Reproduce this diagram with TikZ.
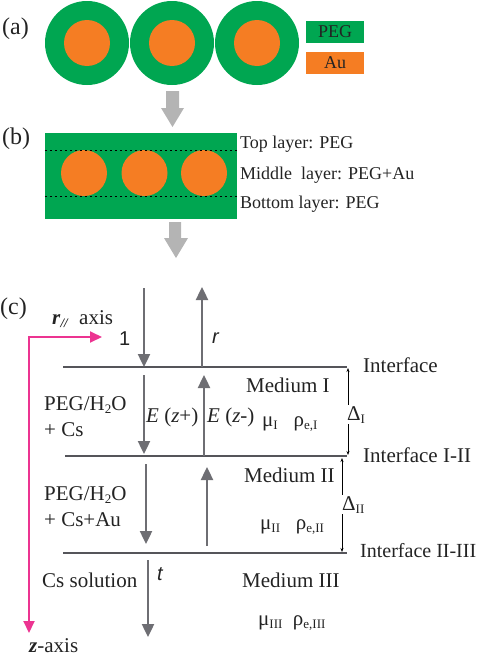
\documentclass[tikz,border=0pt]{standalone}
\usepackage{fontspec}
\setmainfont{Liberation Serif}
\setsansfont{Liberation Sans}
\usetikzlibrary{arrows.meta}
\definecolor{peg}{RGB}{0,166,81}
\definecolor{au}{RGB}{245,125,35}
\definecolor{bigarr}{RGB}{180,180,180}
\definecolor{darr}{RGB}{110,110,115}
\definecolor{iline}{RGB}{85,85,90}
\definecolor{mag}{RGB}{236,52,145}
\definecolor{txtc}{RGB}{35,35,35}
\newcommand{\sbs}[1]{\raisebox{-0.35ex}{\fontsize{13}{13}\selectfont #1}}
\begin{document}
\begin{tikzpicture}[x=1pt,y=-1pt,
  txt/.style={anchor=base west,inner sep=0pt,text=txtc,font=\fontsize{21}{25}\selectfont},
  lbl/.style={anchor=base west,inner sep=0pt,text=txtc,font=\fontsize{18}{22}\selectfont},
  panel/.style={anchor=base west,inner sep=0pt,text=txtc,font=\fontsize{24}{28}\selectfont},
  shell/.style={circle,fill=peg,minimum size=84pt,inner sep=0pt},
  core/.style={circle,fill=au,minimum size=46pt,inner sep=0pt},
  legbox/.style={minimum width=58pt,minimum height=22pt,inner sep=0pt,text=txtc,font=\fontsize{18}{22}\selectfont},
  wave/.style={draw=darr,line width=2.4pt,-{Triangle[length=13pt,width=12pt]}},
  iface/.style={draw=iline,line width=1.6pt},
  dim/.style={draw=black,line width=0.7pt,{Stealth[length=4pt,width=3pt]}-{Stealth[length=4pt,width=3pt]}},
  axisline/.style={draw=mag,line width=2pt,line join=miter,{Triangle[length=12pt,width=11pt]}-{Triangle[length=12pt,width=11pt]}},
  bigarrow/.style={fill=bigarr}
]
\useasboundingbox (0,0) rectangle (478,656);

% ---------- (a) ----------
\node[panel] (la) at (2,34) {(a)};
\foreach \cx/\n in {87/1,172/2,257/3}{
  \node[shell] (shell\n) at (\cx,43) {};
  \node[core] (core\n) at (\cx,43) {};
}
\node[legbox,fill=peg] (legpeg) at (335,32) {PEG};
\node[legbox,fill=au] (legau) at (335,63) {Au};

% big arrow 1
\fill[bigarrow] (166,91) -- (179,91) -- (179,108) -- (184,108) -- (172.5,127) -- (161,108) -- (166,108) -- cycle;

% ---------- (b) ----------
\node[panel] (lb) at (2,144) {(b)};
\node[fill=peg,minimum width=192pt,minimum height=86pt,inner sep=0pt] (film) at (141,176) {};
\foreach \cx/\n in {84/1,144.5/2,204/3}{
  \node[core] (bcore\n) at (\cx,173) {};
}
\draw[black,line width=0.8pt,dash pattern=on 2.5pt off 2.5pt] (film.west |- 0,150) -- (film.east |- 0,150);
\draw[black,line width=0.8pt,dash pattern=on 2.5pt off 2.5pt] (film.west |- 0,196) -- (film.east |- 0,196);
\node[lbl] (top) at (240,148) {Top layer: PEG};
\node[lbl] (mid) at (240,179) {Middle\ \ layer: PEG+Au};
\node[lbl] (bot) at (240,208) {Bottom layer: PEG};

% big arrow 2
\fill[bigarrow] (169,222) -- (181,222) -- (181,238) -- (188,238) -- (176,258) -- (164,238) -- (169,238) -- cycle;

% ---------- (c) ----------
\node[panel] (lc) at (0,314) {(c)};
\coordinate (rax) at (102,337);
\coordinate (org) at (29,337);
\coordinate (zax) at (29,633);
\draw[axisline] (rax) -- (org) -- (zax);
\node[txt] (rlab) at (52,324) {\textbf{\textit{r}}\sbs{\textbf{\textit{//}}}\ \ axis};
\node[txt] (zlab) at (29,652) {\textbf{\textit{z}}-axis};
\node[txt,font=\sffamily\fontsize{20}{24}\selectfont] (one) at (119,345) {1};
\node[txt,font=\sffamily\itshape\fontsize{20}{24}\selectfont] (rr) at (212,343) {r};
\node[txt,font=\sffamily\itshape\fontsize{20}{24}\selectfont] (tt) at (157,580) {t};

% interfaces
\coordinate (i1l) at (63,367); \coordinate (i1r) at (347,367);
\coordinate (i2l) at (65,456); \coordinate (i2r) at (347,456);
\coordinate (i3l) at (63,553); \coordinate (i3r) at (347,553);
\draw[iface] (i1l) -- (i1r);
\draw[iface] (i2l) -- (i2r);
\draw[iface] (i3l) -- (i3r);

% waves
\coordinate (a1s) at (144,288); \coordinate (a1e) at (144,367);
\coordinate (a2s) at (202,367); \coordinate (a2e) at (202,287);
\coordinate (a3s) at (144,375); \coordinate (a3e) at (144,454);
\coordinate (a4s) at (204,456); \coordinate (a4e) at (204,375);
\coordinate (a5s) at (146,464); \coordinate (a5e) at (146,544);
\coordinate (a6s) at (207,546); \coordinate (a6e) at (207,467);
\coordinate (a7s) at (148,560); \coordinate (a7e) at (148,637);
\foreach \n in {1,...,7}{ \draw[wave] (a\n s) -- (a\n e); }

% medium texts
\node[txt] (peg1) at (44,410) {PEG/H\sbs{2}O};
\node[txt] (cs1) at (44,436) {+ Cs};
\node[txt] (ezp) at (146,422) {\textit{E} (\textit{z}+)};
\node[txt] (ezm) at (207,422) {\textit{E} (\textit{z}-)};
\node[txt] (med1) at (246,392) {Medium I};
\node[txt] (mu1) at (262,426) {μ\sbs{I}\ \ \ ρ\sbs{e,I}};
\node[txt] (if1) at (363,372) {Interface};

\node[txt] (peg2) at (44,500) {PEG/H\sbs{2}O};
\node[txt] (cs2) at (44,526) {+ Cs+Au};
\node[txt] (med2) at (244,482) {Medium II};
\node[txt] (mu2) at (260,529) {μ\sbs{II}\ \ \ ρ\sbs{e,II}};
\node[txt] (if2) at (363,462) {Interface I-II};

\node[txt] (cs3) at (42,587) {Cs solution};
\node[txt] (med3) at (242,587) {Medium III};
\node[txt] (mu3) at (258,625) {μ\sbs{III}\ \ ρ\sbs{e,III}};
\node[txt,font=\fontsize{20}{24}\selectfont] (if3) at (360,557) {Interface II-III};

% thicknesses
\coordinate (d1t) at (348,368); \coordinate (d1b) at (348,455);
\coordinate (d2t) at (342,458); \coordinate (d2b) at (342,552);
\draw[dim] (d1t) -- (d1b);
\draw[dim] (d2t) -- (d2b);
\node[txt,fill=white,inner sep=1pt] (del1) at (346,420) {Δ\sbs{I}};
\node[txt,fill=white,inner sep=1pt] (del2) at (341,510) {Δ\sbs{II}};
\end{tikzpicture}
\end{document}
